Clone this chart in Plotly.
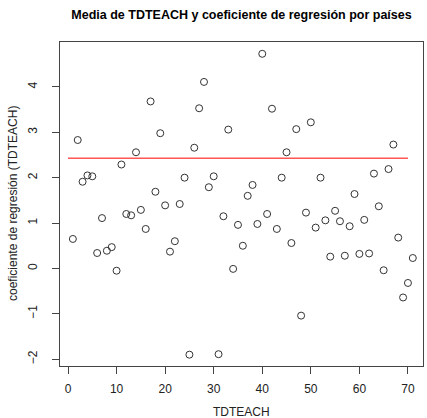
import plotly.graph_objects as go

# Country index (TDTEACH) and regression coefficients
tdteach = list(range(1, 72))
coef = [0.65, 2.83, 1.91, 2.05, 2.03, 0.34, 1.11, 0.39, 0.47, -0.05,
        2.29, 1.20, 1.17, 2.56, 1.29, 0.87, 3.68, 1.69, 2.98, 1.39,
        0.37, 0.60, 1.42, 2.00, -1.90, 2.66, 3.53, 4.11, 1.79, 2.03,
        -1.89, 1.15, 3.06, -0.01, 0.96, 0.50, 1.60, 1.84, 0.98, 4.73,
        1.20, 3.52, 0.87, 2.00, 2.56, 0.56, 3.07, -1.04, 1.23, 3.22,
        0.90, 2.00, 1.06, 0.26, 1.27, 1.04, 0.28, 0.93, 1.64, 0.32,
        1.07, 0.33, 2.09, 1.37, -0.04, 2.19, 2.73, 0.68, -0.64, -0.32, 0.23]
ref_x = [0, 70]
ref_value = 2.43

x_ticks = [0, 10, 20, 30, 40, 50, 60, 70]
y_ticks = [-2, -1, 0, 1, 2, 3, 4]

fig = go.Figure()
fig.add_trace(go.Scatter(
    x=tdteach, y=coef, mode="markers",
    marker=dict(symbol="circle-open", size=7, color="#333333", line=dict(width=1)),
    showlegend=False, hoverinfo="x+y"))
fig.add_trace(go.Scatter(
    x=ref_x, y=[ref_value] * len(ref_x), mode="lines",
    line=dict(color="#ff0000", width=1), showlegend=False))

font = "Liberation Sans, Arial, sans-serif"
fig.update_layout(
    width=427, height=418,
    margin=dict(l=60, r=4, t=42, b=52),
    paper_bgcolor="white", plot_bgcolor="white",
    font=dict(family=font, size=12, color="#222222"),
    title=dict(text="<b>Media de TDTEACH y coeficiente de regresión por países</b>",
               x=241.5 / 427, xanchor="center", y=1 - 15 / 418, yanchor="middle",
               font=dict(family=font, size=12.5, color="#000000")),
    xaxis=dict(range=[-1.65, 73.1], tickvals=x_ticks, ticks="outside", ticklen=7,
               tickcolor="#444444", showline=True, linecolor="#444444", linewidth=1,
               mirror=True, showgrid=False, zeroline=False, ticklabelstandoff=5,
               tickfont=dict(size=12, color="#222222")),
    yaxis=dict(range=[-2.15, 4.99], tickvals=y_ticks, ticks="outside", ticklen=7,
               tickcolor="#444444", showline=True, linecolor="#444444", linewidth=1,
               mirror=True, showgrid=False, zeroline=False, tickangle=-90,
               ticklabelstandoff=10,
               tickfont=dict(size=12, color="#222222")),
    annotations=[
        dict(text="TDTEACH", xref="paper", yref="paper", x=0.5, y=-46 / 324,
             xanchor="center", yanchor="middle", showarrow=False,
             font=dict(size=12, color="#222222")),
        dict(text="coeficiente de regresión (TDTEACH)", xref="paper", yref="paper",
             x=-47 / 363, y=0.5, xanchor="center", yanchor="middle", textangle=-90,
             showarrow=False, font=dict(size=12, color="#222222")),
    ],
)

fig.write_html("out.html")
